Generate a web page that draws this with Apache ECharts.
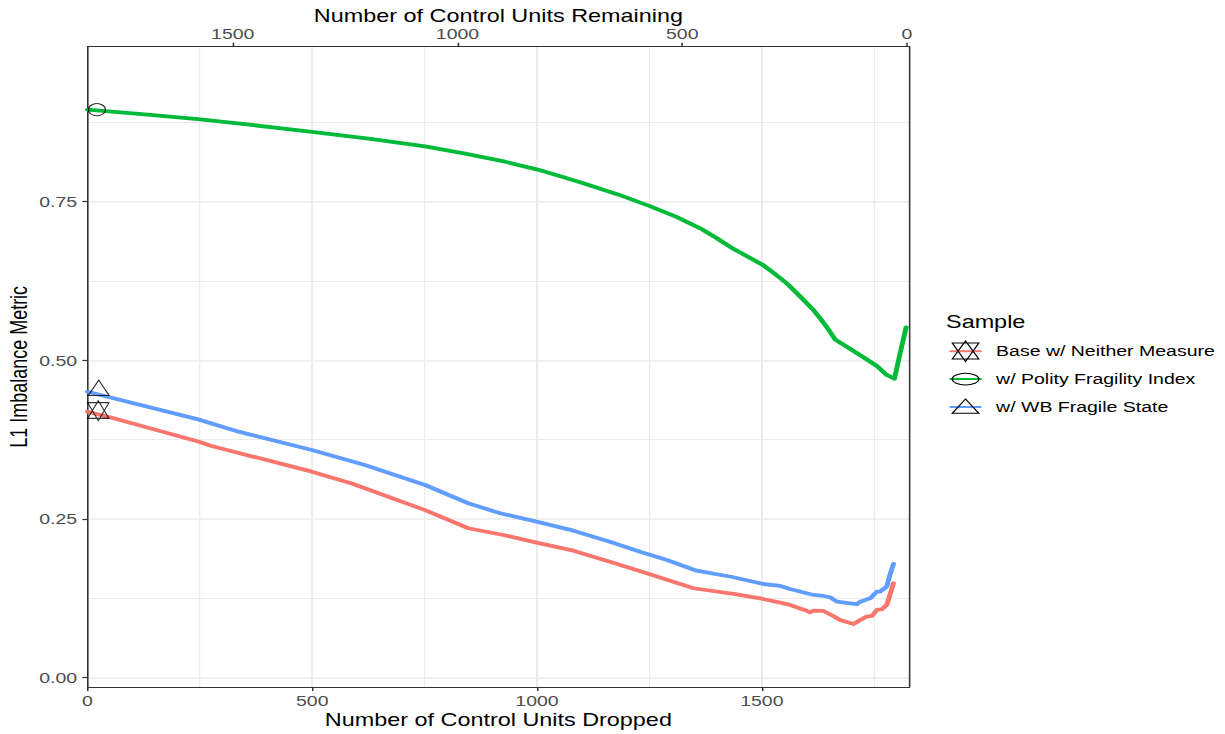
<!DOCTYPE html>
<html>
<head>
<meta charset="utf-8">
<script src="https://cdn.jsdelivr.net/npm/echarts@6/dist/echarts.min.js"></script>
<style>
  html, body { margin: 0; padding: 0; background: #ffffff; overflow: hidden; }
  #wrap { width: 1225px; height: 734px; overflow: hidden; }
  #chart { width: 942px; height: 734px; transform: scaleX(1.3004); transform-origin: 0 0; }
</style>
</head>
<body>
<div id="wrap"><div id="chart"></div></div>
<script>
// ---- data ----
const seriesNames = ['Base w/ Neither Measure', 'w/ Polity Fragility Index', 'w/ WB Fragile State'];
const seriesColors = ['#F8766D', '#00BA38', '#619CFF'];

const baseX = [0, 46, 246, 276, 499, 588, 751, 847, 925, 999, 1081, 1162, 1244, 1348, 1437, 1503, 1541, 1563, 1600, 1607, 1615, 1637, 1659, 1674, 1704, 1719, 1733, 1745, 1756, 1767, 1778, 1785, 1793];
const baseY = [0.419, 0.411, 0.372, 0.365, 0.3246, 0.306, 0.264, 0.2354, 0.2248, 0.2127, 0.2001, 0.1828, 0.1645, 0.1409, 0.1319, 0.124, 0.1182, 0.1146, 0.1055, 0.103, 0.1056, 0.1051, 0.0972, 0.0909, 0.0846, 0.0909, 0.0961, 0.0972, 0.1067, 0.1078, 0.1146, 0.1303, 0.1487];

const polityX = [0, 120, 246, 370, 499, 625, 751, 840, 929, 999, 1050, 1103, 1180, 1251, 1310, 1363, 1400, 1437, 1444, 1503, 1530, 1556, 1585, 1614, 1630, 1647, 1663, 1697, 1726, 1756, 1778, 1795, 1808, 1821];
const polityY = [0.895, 0.888, 0.880, 0.8705, 0.860, 0.8493, 0.837, 0.8258, 0.813, 0.801, 0.7905, 0.779, 0.7615, 0.743, 0.726, 0.708, 0.6925, 0.6755, 0.673, 0.650, 0.6357, 0.621, 0.601, 0.580, 0.566, 0.550, 0.533, 0.518, 0.505, 0.491, 0.477, 0.471, 0.512, 0.552];

const wbX = [0, 246, 336, 499, 617, 751, 847, 918, 999, 1081, 1162, 1229, 1289, 1355, 1437, 1503, 1541, 1563, 1615, 1637, 1652, 1667, 1696, 1711, 1719, 1741, 1756, 1763, 1778, 1785, 1793];
const wbY = [0.4506, 0.407, 0.3876, 0.3588, 0.335, 0.3036, 0.2748, 0.259, 0.2458, 0.2316, 0.2143, 0.1985, 0.1855, 0.1686, 0.1582, 0.1476, 0.1445, 0.1398, 0.1303, 0.1287, 0.1267, 0.1198, 0.1172, 0.1157, 0.1198, 0.125, 0.1355, 0.1355, 0.1434, 0.1618, 0.1792];

const markerX = [24, 21, 25];
const markerY = [0.4207, 0.895, 0.4568];

const xTicks = [0, 500, 1000, 1500];
const xMinorTicks = [250, 750, 1250, 1750];
const remainingTicks = [0, 500, 1000, 1500];
const totalControls = 1823;
const yTicks = [0, 0.25, 0.5, 0.75];
const yMinorTicks = [0.125, 0.375, 0.625, 0.875];

// ---- chart ----
const FONT = 'Liberation Sans';
const X_MIN = 0, X_MAX = 1828;
const Y_MIN = -0.0147, Y_MAX = 0.9942;
const BORDER = '#333333';
const GRID_C = '#EBEBEB';

const starPath = 'path://M0,-30L32,23L-32,23Z M0,30L32,-24L-32,-24Z';
const markerSymbols = [starPath, 'circle', 'triangle'];
const markerSizes = [[16.4, 20], [13, 12], [16, 15.3]];
// legend keys (square boxes) – padded paths so that the glyph keeps the reference's proportions
const legendSymbols = [
  starPath,
  'path://M-1,0A1,0.57,0,1,0,1,0A1,0.57,0,1,0,-1,0Z M0,-1 M0,1',
  'path://M0,-0.78L1,0.62L-1,0.62Z M0,-1 M0,1'
];

function zip(xs, ys) { return xs.map((x, i) => [x, ys[i]]); }
const lineData = [zip(baseX, baseY), zip(polityX, polityY), zip(wbX, wbY)];

const series = [];
seriesNames.forEach((name, i) => {
  series.push({
    name: name,
    type: 'line',
    data: lineData[i],
    showSymbol: false,
    symbol: legendSymbols[i],
    symbolSize: 14,
    itemStyle: { color: 'rgba(0,0,0,0)', borderColor: '#000000', borderWidth: 1 },
    lineStyle: { color: seriesColors[i], width: 3.8, cap: 'round', join: 'round' },
    emphasis: { disabled: true },
    animation: false,
    z: 3
  });
});
seriesNames.forEach((name, i) => {
  series.push({
    name: 'marker ' + name,
    type: 'scatter',
    data: [[markerX[i], markerY[i]]],
    symbol: markerSymbols[i],
    symbolSize: markerSizes[i],
    itemStyle: { color: 'rgba(0,0,0,0)', borderColor: '#000000', borderWidth: 1 },
    emphasis: { disabled: true },
    animation: false,
    z: 4
  });
});

const tickLabelStyle = { fontFamily: FONT, fontSize: 15, color: '#4D4D4D' };
const nameStyle = { fontFamily: FONT, fontSize: 18, color: '#000000' };

const chart = echarts.init(document.getElementById('chart'), null, { renderer: 'svg' });
chart.setOption({
  animation: false,
  backgroundColor: '#ffffff',
  textStyle: { fontFamily: FONT },
  title: {
    text: 'Sample',
    left: 727.5,
    top: 313,
    padding: 0,
    textStyle: { fontFamily: FONT, fontSize: 18, fontWeight: 'normal', color: '#000000' }
  },
  legend: {
    data: seriesNames,
    orient: 'vertical',
    left: 730,
    top: 340.5,
    padding: 0,
    itemWidth: 23,
    itemHeight: 25.6,
    itemGap: 6.4,
    selectedMode: false,
    itemStyle: { color: 'rgba(0,0,0,0)', borderColor: '#000000', borderWidth: 1 },
    textStyle: { fontFamily: FONT, fontSize: 15, color: '#000000', padding: [0, 0, 0, 7] }
  },
  grid: { left: 67.3, right: 242.8, top: 46.7, bottom: 47, containLabel: false, outerBoundsMode: 'none' },
  xAxis: [
    {
      type: 'value', position: 'bottom', min: X_MIN, max: X_MAX,
      name: 'Number of Control Units Dropped', nameLocation: 'middle', nameGap: 24,
      nameMoveOverlap: false, nameTextStyle: nameStyle,
      axisLine: { show: true, onZero: false, lineStyle: { color: BORDER, width: 1.2 } },
      axisTick: { show: true, length: 4, customValues: xTicks, lineStyle: { color: BORDER, width: 1.2 } },
      axisLabel: Object.assign({ show: true, margin: 6, customValues: xTicks, formatter: v => String(v) }, tickLabelStyle),
      splitLine: { show: true, lineStyle: { color: GRID_C, width: 1.5 } },
      minorTick: { show: false }, minorSplitLine: { show: false }
    },
    {
      type: 'value', position: 'bottom', min: X_MIN, max: X_MAX,
      axisLine: { show: false },
      axisTick: { show: false, customValues: xMinorTicks },
      axisLabel: { show: false, customValues: xMinorTicks },
      splitLine: { show: true, lineStyle: { color: GRID_C, width: 0.9 } },
      z: 0
    },
    {
      type: 'value', position: 'top', min: X_MIN, max: X_MAX,
      name: 'Number of Control Units Remaining', nameLocation: 'middle', nameGap: 22,
      nameMoveOverlap: false, nameTextStyle: nameStyle,
      axisLine: { show: true, onZero: false, lineStyle: { color: BORDER, width: 1.2 } },
      axisTick: { show: true, length: 4, customValues: remainingTicks.map(r => totalControls - r), lineStyle: { color: BORDER, width: 1.2 } },
      axisLabel: Object.assign({ show: true, margin: 5, customValues: remainingTicks.map(r => totalControls - r),
        formatter: v => String(Math.round(totalControls - v)) }, tickLabelStyle),
      splitLine: { show: false }
    }
  ],
  yAxis: [
    {
      type: 'value', position: 'left', min: Y_MIN, max: Y_MAX,
      name: 'L1 Imbalance Metric', nameLocation: 'middle', nameGap: 44, nameRotate: 90,
      nameMoveOverlap: false, nameTextStyle: nameStyle,
      axisLine: { show: true, onZero: false, lineStyle: { color: BORDER, width: 1.2 } },
      axisTick: { show: true, length: 4, customValues: yTicks, lineStyle: { color: BORDER, width: 1.2 } },
      axisLabel: Object.assign({ show: true, margin: 8, customValues: yTicks, formatter: v => v.toFixed(2) }, tickLabelStyle),
      splitLine: { show: true, lineStyle: { color: GRID_C, width: 1.5 } }
    },
    {
      type: 'value', position: 'right', min: Y_MIN, max: Y_MAX,
      axisLine: { show: true, onZero: false, lineStyle: { color: BORDER, width: 1.2 } },
      axisTick: { show: false, customValues: yMinorTicks },
      axisLabel: { show: false, customValues: yMinorTicks },
      splitLine: { show: true, lineStyle: { color: GRID_C, width: 0.9 } }
    }
  ],
  series: series
});
</script>
</body>
</html>
